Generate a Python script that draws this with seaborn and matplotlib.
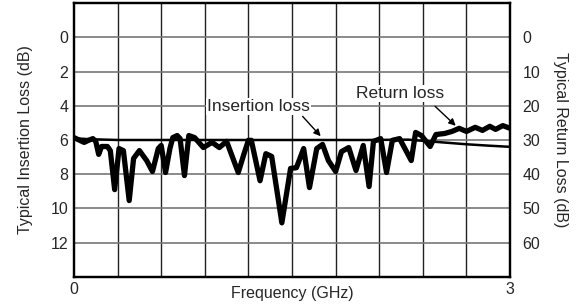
import numpy as np
import pandas as pd
import matplotlib
matplotlib.use('Agg')
import matplotlib.pyplot as plt
import seaborn as sns

# data
freq_rl = [0.00, 0.03, 0.07, 0.10, 0.13, 0.15, 0.17, 0.19, 0.23, 0.25,
           0.28, 0.31, 0.34, 0.38, 0.41, 0.45, 0.50, 0.54, 0.58, 0.60,
           0.63, 0.66, 0.68, 0.71, 0.73, 0.76, 0.79, 0.83, 0.89, 0.95,
           1.00, 1.05, 1.13, 1.17, 1.20, 1.22, 1.28, 1.32, 1.36, 1.43,
           1.49, 1.53, 1.58, 1.62, 1.67, 1.71, 1.75, 1.80, 1.84, 1.89,
           1.94, 1.99, 2.03, 2.06, 2.11, 2.15, 2.19, 2.24, 2.32, 2.35,
           2.39, 2.45, 2.49, 2.55, 2.60, 2.65, 2.70, 2.76, 2.81, 2.86,
           2.90, 2.95, 3.00]
return_loss = [29.3, 29.9, 30.7, 30.1, 29.6, 30.4, 34.2, 31.9, 31.9, 33.1,
               44.5, 32.5, 33.1, 47.7, 35.4, 33.1, 36.0, 39.2, 32.5, 31.6,
               39.5, 32.5, 29.3, 28.7, 29.6, 40.4, 28.7, 29.3, 32.2, 30.7,
               32.2, 30.4, 39.5, 34.0, 30.1, 30.1, 41.9, 34.0, 34.8, 54.2,
               38.3, 38.1, 32.5, 43.9, 32.5, 31.3, 36.0, 39.2, 33.4, 32.2,
               38.9, 31.6, 43.6, 30.4, 29.6, 39.5, 30.1, 29.6, 36.0, 27.8,
               28.7, 31.9, 28.4, 28.1, 27.5, 26.6, 27.5, 26.3, 27.2, 26.0,
               26.9, 25.8, 26.6]

freq_il = [0.0, 0.1, 0.3, 0.6, 1.0, 1.5, 2.0, 2.3, 2.4, 2.55, 2.7, 2.85, 3.0]
insertion_loss = [5.9, 5.95, 6.0, 6.0, 6.0, 6.0, 6.0, 5.98, 6.05, 6.15, 6.25, 6.33, 6.4]

x_ticks = np.arange(0, 3.01, 0.3)
x_labels = ['0', '', '', '', '', '', '', '', '', '', '3']
il_ticks = [-2, 0, 2, 4, 6, 8, 10, 12, 14]
il_labels = ['', '0', '2', '4', '6', '8', '10', '12', '']
rl_ticks = [-10, 0, 10, 20, 30, 40, 50, 60, 70]
rl_labels = ['', '0', '10', '20', '30', '40', '50', '60', '']

sns.set_style('white')
plt.rcParams['font.family'] = ['Liberation Sans', 'DejaVu Sans']
plt.rcParams['font.size'] = 11.5

df_rl = pd.DataFrame({'f': freq_rl, 'rl': return_loss})
df_il = pd.DataFrame({'f': freq_il, 'il': insertion_loss})

fig = plt.figure(figsize=(5.87, 3.07), dpi=100)
ax = fig.add_axes([0.126, 0.098, 0.743, 0.892])
ax2 = ax.twinx()

sns.lineplot(data=df_il, x='f', y='il', ax=ax, color='black', lw=1.8)
sns.lineplot(data=df_rl, x='f', y='rl', ax=ax2, color='black', lw=3.8,
             solid_joinstyle='round')

ax.set_xlim(0, 3)
ax.set_ylim(14, -2)
ax2.set_ylim(70, -10)

ax.set_xticks(x_ticks)
ax.set_xticklabels(x_labels)
ax.set_yticks(il_ticks)
ax.set_yticklabels(il_labels)
ax2.set_yticks(rl_ticks)
ax2.set_yticklabels(rl_labels)

# grid: black verticals, grey horizontals
for xv in x_ticks[1:-1]:
    ax.axvline(xv, color='#222222', lw=1.0, zorder=0)
for yv in il_ticks[1:-1]:
    ax.axhline(yv, color='#777777', lw=1.2, zorder=0)

ax.tick_params(length=0, pad=4, labelsize=11.5)
ax2.tick_params(length=0, pad=9, labelsize=11.5)
for a in (ax, ax2):
    for s in a.spines.values():
        s.set_linewidth(1.6)
        s.set_color('black')

ax.set_xlabel('Frequency (GHz)', va='center')
ax.xaxis.set_label_coords(0.5, -0.06)
ax.set_ylabel('Typical Insertion Loss (dB)', va='center')
ax.yaxis.set_label_coords(-0.112, 0.5)
ax2.set_ylabel('Typical Return Loss (dB)', rotation=270, va='center')
ax2.yaxis.set_label_coords(1.115, 0.5)

box = dict(facecolor='white', edgecolor='none', pad=1.0)
ax.text(1.27, 4.04, 'Insertion loss', ha='center', va='center', fontsize=12.5,
        bbox=box, zorder=5)
ax2.text(2.24, 16.4, 'Return loss', ha='center', va='center', fontsize=12.5,
         bbox=box, zorder=5)

arrow = dict(arrowstyle='-|>', color='black', lw=1.0, mutation_scale=10)
ax.annotate('', xy=(1.71, 5.9), xytext=(1.56, 4.5), arrowprops=arrow)
ax2.annotate('', xy=(2.64, 26.4), xytext=(2.47, 19.6), arrowprops=arrow)

fig.savefig('out.png', dpi=100)
